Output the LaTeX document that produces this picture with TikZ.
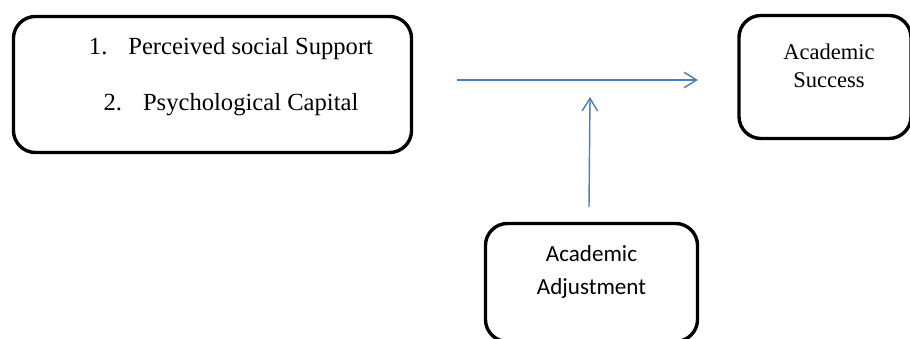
\documentclass[tikz,border=0pt]{standalone}
\usepackage{fontspec}
\setmainfont{Liberation Serif}
\newfontfamily\calibri{Carlito}
\usetikzlibrary{arrows.meta}
\definecolor{linkblue}{RGB}{74,126,187}
\tikzset{
  card/.style={draw, line width=2.4pt, rounded corners=0.55cm, inner sep=0pt},
  link/.style={draw=linkblue, line width=1pt, -{Straight Barb[length=9pt,width=11pt]}}
}
\begin{document}
\begin{tikzpicture}[x=0.025cm, y=-0.025cm]
      \useasboundingbox (0,0) rectangle (910,339);
      \node[card, minimum width=9.95cm, minimum height=3.4cm] (factors) at (212.5,84.5) {};
      \node[card, minimum width=4.3cm, minimum height=3.075cm] (success) at (825,77) {};
      \node[card, minimum width=5.3cm, minimum height=2.95cm] (adjust) at (591.5,282.5) {};
      \node[anchor=base, font=\fontsize{17.5}{21}\selectfont] (f1) at (231,55) {1.\hspace{0.85em}Perceived social Support};
      \node[anchor=base, font=\fontsize{17.5}{21}\selectfont] (f2) at (231,111) {2.\hspace{0.85em}Psychological Capital};
      \node[anchor=base, align=center, font=\fontsize{16}{20.5}\selectfont] (s1) at (829,88) {Academic\\Success};
      \node[anchor=base, align=center, font=\calibri\fontsize{16.4}{23.5}\selectfont] (a1) at (591.5,295) {Academic\\Adjustment};
      \coordinate (hs) at (457,80);
      \coordinate (he) at (698,80);
      \coordinate (vs) at (589,207);
      \coordinate (ve) at (590,97);
      \draw[link] (hs) -- (he);
      \draw[link] (vs) -- (ve);
\end{tikzpicture}
\end{document}
